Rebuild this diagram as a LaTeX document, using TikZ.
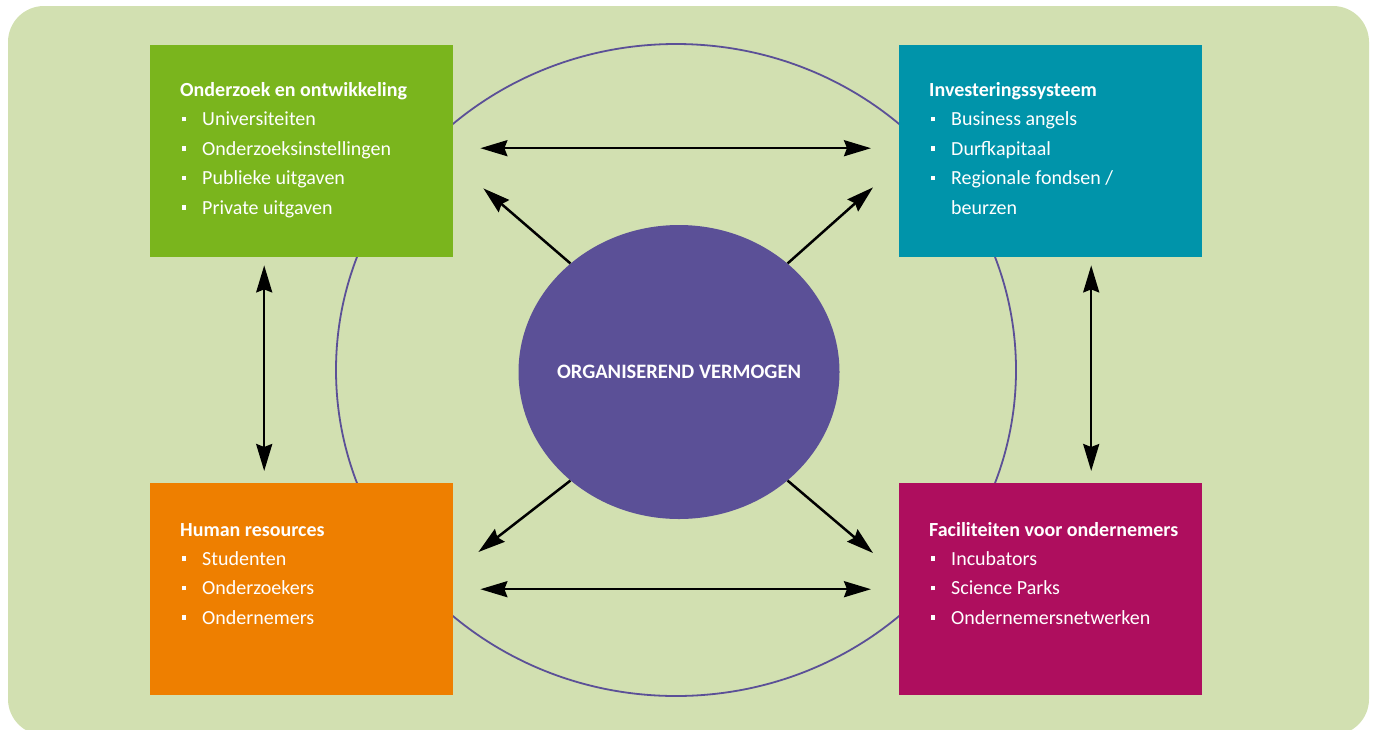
\documentclass[tikz,border=0pt]{standalone}
\usepackage{fontspec}
\setmainfont{Carlito}
\usepackage{tikz}
\usetikzlibrary{arrows.meta,positioning,shapes.geometric}

\definecolor{achtergrond}{HTML}{D2E0B1}
\definecolor{groen}{HTML}{7AB51D}
\definecolor{blauw}{HTML}{0094AA}
\definecolor{oranje}{HTML}{EE7F00}
\definecolor{paars}{HTML}{AE0E5E}
\definecolor{kernkleur}{HTML}{5B5097}

\newcommand{\itm}{\makebox[22pt][l]{\hspace{1.5pt}\rule[4.5pt]{4.5pt}{4.5pt}}}

\begin{document}
\begin{tikzpicture}[x=1pt, y=-1pt, >={Stealth[length=27pt,width=16pt,inset=3pt]},
    blok/.style={rectangle, minimum width=303pt, minimum height=212pt, anchor=north west, inner sep=0pt},
    tekst/.style={anchor=base west, align=left, inner sep=0pt, text=white, font=\fontsize{20pt}{29.4pt}\selectfont},
    pijl/.style={<->, line width=2.5pt}]
    \useasboundingbox (0,0) rectangle (1375,729);
    \fill[achtergrond, rounded corners=36pt] (8,6) rectangle (1369,735);

    % Outer ring
    \node[ellipse, draw=kernkleur, line width=1.8pt, minimum width=680pt, minimum height=652pt, inner sep=0pt] (ring) at (676,370) {};

    % Blocks
    \node[blok, fill=groen] (groen) at (150,45) {};
    \node[blok, fill=blauw] (blauw) at (899,45) {};
    \node[blok, fill=oranje] (oranje) at (150,483) {};
    \node[blok, fill=paars] (paars) at (899,483) {};

    % Block texts (base = last line)
    \def\regel{29.4}
    \node[tekst] (groentekst) at ([shift={(30,51.5+4*\regel)}]groen.north west)
        {\textbf{Onderzoek en ontwikkeling}\\ \itm Universiteiten\\ \itm Onderzoeksinstellingen\\ \itm Publieke uitgaven\\ \itm Private uitgaven};
    \node[tekst] (blauwtekst) at ([shift={(30,51.5+4*\regel)}]blauw.north west)
        {\textbf{Investeringssysteem}\\ \itm Business angels\\ \itm Durfkapitaal\\ \itm Regionale fondsen /\\ \hspace{22pt}beurzen};
    \node[tekst] (oranjetekst) at ([shift={(30,53+3*\regel)}]oranje.north west)
        {\textbf{Human resources}\\ \itm Studenten\\ \itm Onderzoekers\\ \itm Ondernemers};
    \node[tekst] (paarstekst) at ([shift={(30,53+3*\regel)}]paars.north west)
        {\textbf{Faciliteiten voor ondernemers}\\ \itm Incubators\\ \itm Science Parks\\ \itm Ondernemersnetwerken};

    % Centre
    \node[ellipse, fill=kernkleur, minimum width=321pt, minimum height=294pt, inner sep=0pt,
        label={[text=white, font=\fontsize{20.5pt}{24pt}\selectfont\bfseries]center:ORGANISEREND VERMOGEN}] (kern) at (679,372) {};

    % Arrows
    \draw[pijl, shorten <=27pt, shorten >=28pt] ([yshift=3]groen.east) -- ([yshift=3]blauw.west);
    \draw[pijl, shorten <=27pt, shorten >=28pt] (oranje.east) -- (paars.west);
    \draw[pijl, shorten <=8pt, shorten >=12pt] ([xshift=-37.5]groen.south) -- ([xshift=-37.5]oranje.north);
    \draw[pijl, shorten <=8pt, shorten >=12pt] ([xshift=40.5]blauw.south) -- ([xshift=40.5]paars.north);
    \draw[->, line width=2.5pt] (kern.135) -- ([shift={(30,-69)}]groen.south east);
    \draw[->, line width=2.5pt] (kern.45) -- ([shift={(-26,-70)}]blauw.south west);
    \draw[->, line width=2.5pt] (kern.225) -- ([shift={(25,69)}]oranje.north east);
    \draw[->, line width=2.5pt] (kern.315) -- ([shift={(-26,70)}]paars.north west);
\end{tikzpicture}
\end{document}
